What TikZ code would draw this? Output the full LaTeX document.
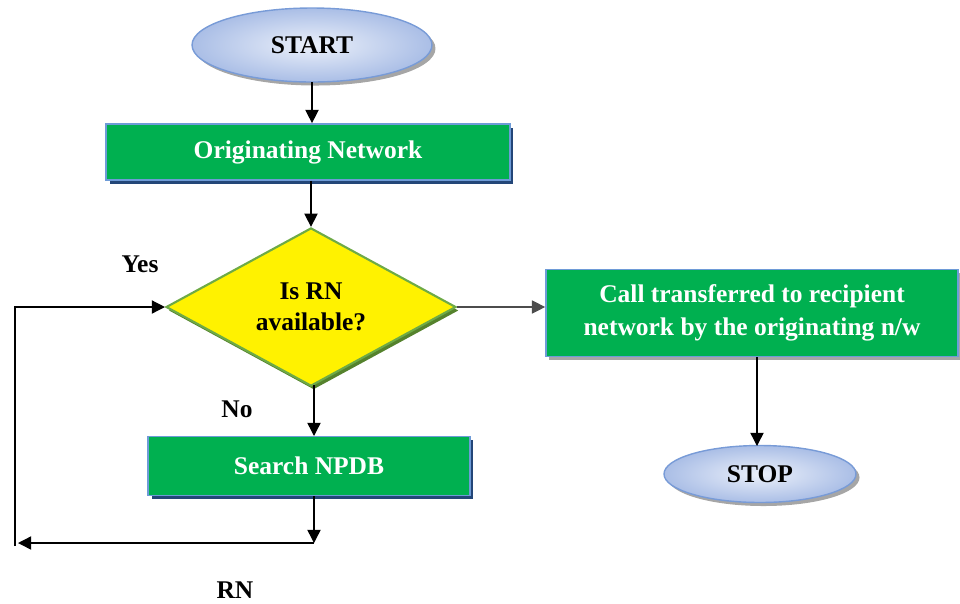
\documentclass[tikz,border=0pt]{standalone}
\usepackage{fontspec}
\setmainfont{Liberation Serif}
\usetikzlibrary{shapes.geometric,arrows.meta,shadows}
\definecolor{boxgreen}{RGB}{0,176,80}
\definecolor{boxline}{RGB}{110,155,215}
\definecolor{boxshadow}{RGB}{35,70,120}
\definecolor{termline}{RGB}{120,155,215}
\definecolor{termin}{RGB}{235,240,250}
\definecolor{termout}{RGB}{170,190,230}
\definecolor{dialine}{RGB}{110,170,70}
\definecolor{diashadow}{RGB}{85,130,45}

\begin{document}
\begin{tikzpicture}[x=0.02cm,y=-0.02cm,>={Triangle[length=7.5pt,width=7.5pt]}] % flussdiagramm
\tikzstyle{term} = [ellipse, draw=termline, line width=0.8pt, inner color=termin, outer color=termout, font=\fontsize{14.5}{16}\selectfont\bfseries, drop shadow={shadow xshift=2pt, shadow yshift=-2pt, fill=gray!70, opacity=1}] % start/stop
\tikzstyle{procbox} = [rectangle, draw=boxline, line width=1pt, fill=boxgreen, text=white, inner sep=0pt, align=center, font=\fontsize{14.5}{18.5}\selectfont\bfseries, drop shadow={shadow xshift=2pt, shadow yshift=-2pt, fill=boxshadow, opacity=1}] % gruene kaesten
\tikzstyle{decision} = [diamond, draw=dialine, line width=1.2pt, fill=yellow, inner sep=0pt, align=center, minimum width=5.8cm, minimum height=3.1cm, font=\fontsize{14.5}{17.5}\selectfont\bfseries, drop shadow={shadow xshift=1.5pt, shadow yshift=-2pt, fill=diashadow, opacity=1}]
\tikzstyle{lbl} = [font=\fontsize{14.5}{16}\selectfont\bfseries]
\tikzstyle{conn} = [->, line width=0.8pt]

\useasboundingbox (0,0) rectangle (960,603);

\node[term, minimum width=4.8cm, minimum height=1.48cm] (start) at (312,45) {START};
\node[procbox, minimum width=8.08cm, minimum height=1.12cm] (orig) at (308,152) {Originating Network};
\node[decision] (avail) at (311,307) {Is RN\\available?};
\node[procbox, minimum width=8.24cm, minimum height=1.74cm, drop shadow={shadow xshift=1.5pt, shadow yshift=-2pt, fill=gray!70, opacity=1}] (call) at (752,313) {Call transferred to recipient\\network by the originating n/w};
\node[procbox, minimum width=6.44cm, minimum height=1.18cm] (search) at (309,466) {Search NPDB};
\node[term, minimum width=3.84cm, minimum height=1.14cm] (stop) at (760,474) {STOP};

\node[lbl] (yes) at (140,264) {Yes};
\node[lbl] (no) at (237,409) {No};
\node[lbl] (rn) at (235,590) {RN};

\coordinate (turn) at (314,543);
\coordinate (leftend) at (18,543);
\coordinate (loopbot) at (15,546);
\coordinate (looptop) at (15,307);

\draw[conn] (start.south |- 0,82) -- (start.south |- orig.north);
\draw[conn] (orig.south -| avail.north) -- (avail.north);
\draw[->, draw=black!70, line width=0.6pt] (avail.east) -- (avail.east -| call.west);
\draw[conn] (call.south -| 757,0) -- (757,446);
\draw[conn] (314,385) -- (314,436);
\draw[conn] (search.south -| turn) -- (turn);
\draw[conn] (turn) -- (leftend);
\draw[conn] (loopbot) -- (looptop) -- (avail.west);
\end{tikzpicture}
\end{document}
